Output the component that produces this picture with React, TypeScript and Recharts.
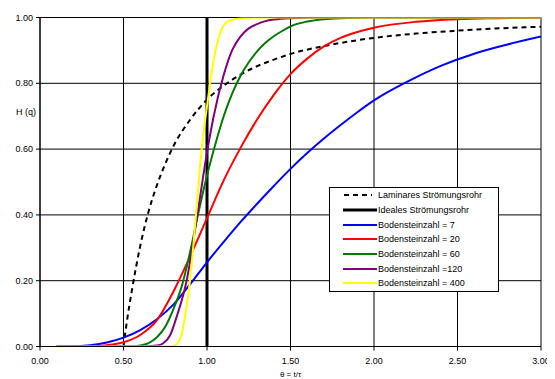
import React from 'react';
import { LineChart, Line, XAxis, YAxis, CartesianGrid, Legend } from 'recharts';

type P = { x: number; y: number };

const xTicks = [0, 0.5, 1, 1.5, 2, 2.5, 3];
const yTicks = [0, 0.2, 0.4, 0.6, 0.8, 1];

const laminar: P[] = [
  { x: 0.5, y: 0 }, { x: 0.52, y: 0.075 }, { x: 0.55, y: 0.17 }, { x: 0.6, y: 0.305 },
  { x: 0.65, y: 0.41 }, { x: 0.7, y: 0.49 }, { x: 0.75, y: 0.555 }, { x: 0.8, y: 0.61 },
  { x: 0.9, y: 0.69 }, { x: 1.0, y: 0.75 }, { x: 1.1, y: 0.793 }, { x: 1.2, y: 0.826 },
  { x: 1.3, y: 0.852 }, { x: 1.4, y: 0.872 }, { x: 1.5, y: 0.889 }, { x: 1.75, y: 0.918 },
  { x: 2.0, y: 0.938 }, { x: 2.25, y: 0.951 }, { x: 2.5, y: 0.96 }, { x: 2.75, y: 0.967 },
  { x: 3.0, y: 0.972 },
];

const ideal: P[] = [{ x: 1, y: 0 }, { x: 1, y: 1 }];

const bo7: P[] = [
  { x: 0.1, y: 0 }, { x: 0.2, y: 0.001 }, { x: 0.3, y: 0.004 }, { x: 0.4, y: 0.012 },
  { x: 0.5, y: 0.027 }, { x: 0.6, y: 0.05 }, { x: 0.7, y: 0.083 }, { x: 0.8, y: 0.128 },
  { x: 0.9, y: 0.19 }, { x: 1.0, y: 0.256 }, { x: 1.1, y: 0.318 }, { x: 1.2, y: 0.378 },
  { x: 1.3, y: 0.434 }, { x: 1.4, y: 0.488 }, { x: 1.5, y: 0.54 }, { x: 1.6, y: 0.588 },
  { x: 1.7, y: 0.632 }, { x: 1.8, y: 0.673 }, { x: 1.9, y: 0.712 }, { x: 2.0, y: 0.748 },
  { x: 2.2, y: 0.805 }, { x: 2.4, y: 0.853 }, { x: 2.6, y: 0.89 }, { x: 2.8, y: 0.918 },
  { x: 3.0, y: 0.942 },
];

const bo20: P[] = [
  { x: 0.1, y: 0 }, { x: 0.3, y: 0.001 }, { x: 0.4, y: 0.004 }, { x: 0.5, y: 0.013 },
  { x: 0.6, y: 0.035 }, { x: 0.7, y: 0.08 }, { x: 0.8, y: 0.168 }, { x: 0.9, y: 0.275 },
  { x: 1.0, y: 0.39 }, { x: 1.1, y: 0.505 }, { x: 1.2, y: 0.603 }, { x: 1.3, y: 0.69 },
  { x: 1.4, y: 0.765 }, { x: 1.5, y: 0.828 }, { x: 1.6, y: 0.875 }, { x: 1.7, y: 0.912 },
  { x: 1.8, y: 0.938 }, { x: 1.9, y: 0.956 }, { x: 2.0, y: 0.969 }, { x: 2.25, y: 0.987 },
  { x: 2.5, y: 0.995 }, { x: 2.75, y: 0.998 }, { x: 3.0, y: 1.0 },
];

const bo60: P[] = [
  { x: 0.1, y: 0 }, { x: 0.55, y: 0 }, { x: 0.6, y: 0.003 }, { x: 0.65, y: 0.01 },
  { x: 0.7, y: 0.028 }, { x: 0.75, y: 0.06 }, { x: 0.8, y: 0.115 }, { x: 0.85, y: 0.185 },
  { x: 0.9, y: 0.29 }, { x: 0.95, y: 0.41 }, { x: 1.0, y: 0.52 }, { x: 1.05, y: 0.615 },
  { x: 1.1, y: 0.7 }, { x: 1.15, y: 0.768 }, { x: 1.2, y: 0.822 }, { x: 1.25, y: 0.864 },
  { x: 1.3, y: 0.897 }, { x: 1.35, y: 0.923 }, { x: 1.4, y: 0.943 }, { x: 1.45, y: 0.959 },
  { x: 1.5, y: 0.973 }, { x: 1.6, y: 0.988 }, { x: 1.7, y: 0.995 }, { x: 1.8, y: 0.998 },
  { x: 2.0, y: 1.0 }, { x: 3.0, y: 1.0 },
];

const bo120: P[] = [
  { x: 0.1, y: 0 }, { x: 0.6, y: 0 }, { x: 0.7, y: 0.003 }, { x: 0.738, y: 0.01 },
  { x: 0.78, y: 0.035 }, { x: 0.818, y: 0.09 }, { x: 0.878, y: 0.2 }, { x: 0.942, y: 0.4 },
  { x: 1.0, y: 0.59 }, { x: 1.04, y: 0.7 }, { x: 1.1, y: 0.825 }, { x: 1.15, y: 0.9 },
  { x: 1.2, y: 0.942 }, { x: 1.25, y: 0.967 }, { x: 1.3, y: 0.98 }, { x: 1.35, y: 0.989 },
  { x: 1.4, y: 0.994 }, { x: 1.5, y: 0.998 }, { x: 1.7, y: 1.0 }, { x: 3.0, y: 1.0 },
];

const bo400: P[] = [
  { x: 0.1, y: 0 }, { x: 0.5, y: 0 }, { x: 0.79, y: 0 }, { x: 0.82, y: 0.008 },
  { x: 0.85, y: 0.04 }, { x: 0.868, y: 0.09 }, { x: 0.898, y: 0.2 }, { x: 0.934, y: 0.4 },
  { x: 0.968, y: 0.6 }, { x: 1.0, y: 0.73 }, { x: 1.03, y: 0.84 }, { x: 1.06, y: 0.92 },
  { x: 1.08, y: 0.955 }, { x: 1.13, y: 0.99 }, { x: 1.2, y: 0.998 }, { x: 1.3, y: 1.0 },
  { x: 3.0, y: 1.0 },
];

const seriesNames = [
  'Laminares Strömungsrohr',
  'Ideales Strömungsrohr',
  'Bodensteinzahl = 7',
  'Bodensteinzahl = 20',
  'Bodensteinzahl = 60',
  'Bodensteinzahl =120',
  'Bodensteinzahl = 400',
];

const FONT = '"Liberation Sans", Arial, sans-serif';

const series = [
  { name: seriesNames[0], data: laminar, color: '#000000', width: 2, dash: '5 4', type: 'monotone' },
  { name: seriesNames[1], data: ideal, color: '#000000', width: 3, dash: undefined, type: 'linear' },
  { name: seriesNames[2], data: bo7, color: '#0000ff', width: 2, dash: undefined, type: 'monotone' },
  { name: seriesNames[3], data: bo20, color: '#ff0000', width: 2, dash: undefined, type: 'monotone' },
  { name: seriesNames[4], data: bo60, color: '#007a00', width: 2, dash: undefined, type: 'monotone' },
  { name: seriesNames[5], data: bo120, color: '#800080', width: 2, dash: undefined, type: 'monotone' },
  { name: seriesNames[6], data: bo400, color: '#ffff00', width: 2, dash: undefined, type: 'monotone' },
];

const LegendBox = () => (
  <div
    style={{
      width: 170,
      height: 105,
      boxSizing: 'border-box',
      border: '1px solid #000',
      background: '#fff',
      paddingTop: 0,
      fontFamily: FONT,
      fontSize: 9,
      color: '#000',
    }}
  >
    {series.map((s) => (
      <div key={s.name} style={{ height: 14.7, display: 'flex', alignItems: 'center' }}>
        <svg width={48} height={6} style={{ display: 'block', flex: '0 0 48px' }}>
          <line
            x1={s.dash ? 14 : 13}
            x2={s.dash ? 42 : 47}
            y1={3}
            y2={3}
            stroke={s.color}
            strokeWidth={s.width === 3 ? 3 : 2}
            strokeDasharray={s.dash}
          />
        </svg>
        <span style={{ whiteSpace: 'nowrap', lineHeight: '10px' }}>{s.name}</span>
      </div>
    ))}
  </div>
);

const YLabel = (props: any) => {
  const vb = props.viewBox || { x: 0, y: 0, height: 0 };
  return (
    <text
      x={vb.x + 8}
      y={vb.y + vb.height * 0.287}
      dy="0.355em"
      textAnchor="start"
      fontSize={9}
      fontFamily={FONT}
      fill="#000"
    >
      H (q)
    </text>
  );
};

export default function App() {
  return (
    <div style={{ width: 547, height: 371, background: '#fff' }}>
      <LineChart
        width={547}
        height={371}
        margin={{ top: 9.5, right: 14, bottom: 0, left: 0 }}
        style={{ fontFamily: FONT }}
      >
        <CartesianGrid stroke="#000" strokeWidth={1} />
        <XAxis
          type="number"
          dataKey="x"
          domain={[0, 3]}
          ticks={xTicks}
          tickFormatter={(v: number) => v.toFixed(2)}
          height={32.5}
          tickSize={4}
          tickMargin={7}
          stroke="#000"
          tick={{ fill: '#000', fontSize: 9, fontFamily: FONT }}
          tickLine={{ stroke: '#000' }}
          axisLine={{ stroke: '#000' }}
          label={{ value: 'θ = t/τ', position: 'insideBottom', offset: 2, fontSize: 8, fill: '#000', fontFamily: FONT }}
          allowDataOverflow
        />
        <YAxis
          type="number"
          domain={[0, 1]}
          ticks={yTicks}
          tickFormatter={(v: number) => v.toFixed(2)}
          width={32}
          tickSize={4}
          tickMargin={3}
          stroke="#000"
          tick={{ fill: '#000', fontSize: 9, fontFamily: FONT }}
          tickLine={{ stroke: '#000' }}
          axisLine={{ stroke: '#000' }}
          label={<YLabel />}
          allowDataOverflow
        />
        <Legend
          layout="vertical"
          align="center"
          verticalAlign="middle"
          content={<LegendBox />}
          wrapperStyle={{ left: 321, top: 179, width: 170, height: 105 }}
        />
        {series.map((s) => (
          <Line
            key={s.name}
            name={s.name}
            data={s.data}
            dataKey="y"
            type={s.type as any}
            stroke={s.color}
            strokeWidth={s.width}
            strokeDasharray={s.dash}
            dot={false}
            activeDot={false}
            isAnimationActive={false}
          />
        ))}
      </LineChart>
    </div>
  );
}
